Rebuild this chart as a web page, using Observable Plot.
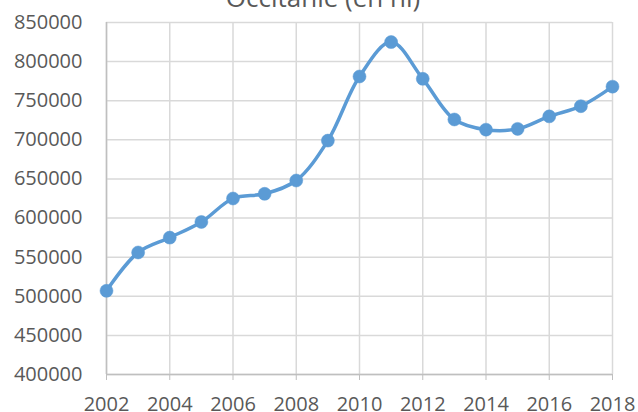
<!DOCTYPE html>
<html>
<head>
<meta charset="utf-8">
<script src="https://cdn.jsdelivr.net/npm/d3@7"></script>
<script src="https://cdn.jsdelivr.net/npm/@observablehq/plot@0.6"></script>
<style>
  html, body { margin: 0; padding: 0; background: #fff; }
  #chart svg { display: block; }
</style>
</head>
<body>
<div id="chart"></div>
<script>
const title = "Occitanie (en hl)";
const years = [2002, 2003, 2004, 2005, 2006, 2007, 2008, 2009, 2010, 2011, 2012, 2013, 2014, 2015, 2016, 2017, 2018];
const values = [507000, 556000, 575000, 595000, 625000, 631000, 648000, 699000, 781000, 825000, 778000, 726000, 713000, 714000, 730000, 743000, 768000];
const xTicks = [2002, 2004, 2006, 2008, 2010, 2012, 2014, 2016, 2018];
const yTicks = [400000, 450000, 500000, 550000, 600000, 650000, 700000, 750000, 800000, 850000];

const data = years.map((year, i) => ({year, value: values[i]}));

const chart = Plot.plot({
  width: 638,
  height: 412,
  marginLeft: 106,
  marginRight: 26,
  marginTop: 22,
  marginBottom: 38,
  style: {fontFamily: "'Open Sans', sans-serif", fontSize: "20px", color: "#595959", background: "#fff", overflow: "visible"},
  x: {domain: [2002, 2018], ticks: xTicks, tickFormat: d => String(d), label: null},
  y: {domain: [400000, 850000], ticks: yTicks, tickFormat: d => String(d), label: null},
  marks: [
    Plot.gridX(xTicks, {stroke: "#d9d9d9", strokeOpacity: 1, strokeWidth: 1.5}),
    Plot.gridY(yTicks, {stroke: "#d9d9d9", strokeOpacity: 1, strokeWidth: 1.5}),
    Plot.ruleX([2002], {stroke: "#bfbfbf", strokeWidth: 1.5}),
    Plot.ruleY([400000], {stroke: "#bfbfbf", strokeWidth: 1.5}),
    Plot.axisY(yTicks, {tickSize: 0, tickPadding: 24, fontSize: 20, fill: "#595959", tickFormat: d => String(d)}),
    Plot.axisX(xTicks, {tickSize: 6, tickPadding: 16, fontSize: 20, fill: "#595959", stroke: "#bfbfbf", tickFormat: d => String(d)}),
    Plot.line(data, {x: "year", y: "value", stroke: "#5B9BD5", strokeWidth: 3.5, curve: "catmull-rom"}),
    Plot.dot(data, {x: "year", y: "value", r: 6.5, fill: "#5B9BD5", stroke: "#5B9BD5", strokeWidth: 0.5}),
    Plot.text([title], {frameAnchor: "top", dx: -36.5, dy: -16, lineAnchor: "bottom", fontSize: 26, fill: "#595959", text: d => d})
  ]
});
document.getElementById("chart").appendChild(chart);
</script>
</body>
</html>
